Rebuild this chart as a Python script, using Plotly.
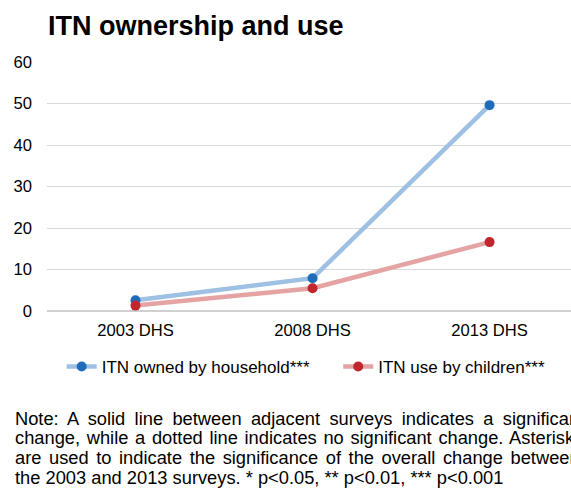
import plotly.graph_objects as go

surveys = ["2003 DHS", "2008 DHS", "2013 DHS"]
owned_by_household = [2.6, 7.9, 49.6]
use_by_children = [1.3, 5.5, 16.6]
y_ticks = [0, 10, 20, 30, 40, 50, 60]

note_lines = [
    "Note: A solid line between adjacent surveys indicates a significant",
    "change, while a dotted line indicates no significant change. Asterisks",
    "are used to indicate the significance of the overall change between",
    "the 2003 and 2013 surveys. * p<0.05, ** p<0.01, *** p<0.001",
]
# extra word spacing (px) giving the note its justified look
note_word_spacing = [4.3, 1.6, 2.5, 0]

FONT = "Liberation Sans, Arial, sans-serif"
GAP = "\u00a0" * 5  # widens the space between the two legend entries

fig = go.Figure()
fig.add_trace(go.Scatter(
    x=surveys, y=owned_by_household, mode="lines+markers",
    name="ITN owned by household***" + GAP,
    line=dict(color="#9DC0E3", width=4.5),
    marker=dict(color="#1F6DBA", size=10),
))
fig.add_trace(go.Scatter(
    x=surveys, y=use_by_children, mode="lines+markers",
    name="ITN use by children***",
    line=dict(color="#E5A3A3", width=4.5),
    marker=dict(color="#C0262C", size=10),
))

annotations = [dict(
    text="<b>ITN ownership and use</b>", xref="paper", yref="paper",
    x=0, y=1, xanchor="left", yanchor="middle", yshift=36, xshift=-1,
    showarrow=False, font=dict(family=FONT, size=27, color="#000000"),
)]
for i, (line, ws) in enumerate(zip(note_lines, note_word_spacing)):
    annotations.append(dict(
        text=f'<span style="word-spacing:{ws}px">{line}</span>',
        xref="paper", yref="paper", x=0, xshift=-34,
        y=0, yshift=-107 - 19.8 * i, xanchor="left", yanchor="middle",
        showarrow=False, font=dict(family=FONT, size=18.3, color="#000000"),
    ))

fig.update_layout(
    width=571, height=497,
    margin=dict(l=47, r=0, t=62, b=186),
    paper_bgcolor="white", plot_bgcolor="white",
    font=dict(family=FONT, size=16.6, color="#000000"),
    showlegend=True,
    legend=dict(orientation="h", x=0.028, xanchor="left", y=-0.225,
                yanchor="middle", font=dict(family=FONT, size=17)),
    xaxis=dict(range=[-0.5, 2.46], showgrid=False, ticks="",
               showline=False, ticklabelstandoff=7,
               tickfont=dict(size=16.6)),
    yaxis=dict(range=[0, 60], tickvals=y_ticks, showgrid=True,
               gridcolor="#D9D9D9", gridwidth=1, zeroline=True,
               zerolinecolor="#D0D0D0", zerolinewidth=1.5,
               ticks="", ticklabelstandoff=14, tickfont=dict(size=16.6)),
    annotations=annotations,
)
fig.write_html("out.html")
